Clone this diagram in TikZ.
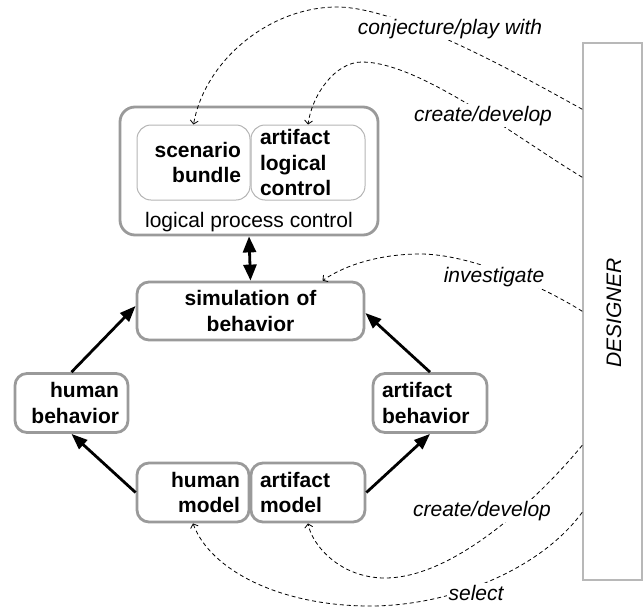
\documentclass[tikz,border=0pt]{standalone}
\usepackage{fontspec}
\setmainfont{Liberation Sans}
\usetikzlibrary{arrows.meta,calc}

\definecolor{boxgray}{HTML}{9A9A9A}
\definecolor{thingray}{HTML}{B4B4B4}
\definecolor{desgray}{HTML}{B8B8B8}

\tikzset{
  boxtext/.style={font=\bfseries\fontsize{21}{25.5}\selectfont},
  roundbox/.style={boxtext, draw=boxgray, line width=2.8pt, rounded corners=12pt,
    inner sep=0pt, minimum height=59pt},
  innerbox/.style={boxtext, draw=thingray, line width=1pt, rounded corners=14pt,
    inner sep=0pt, minimum height=75pt},
  flow/.style={line width=2.8pt, -{Triangle[length=16pt,width=12pt]}},
  link/.style={line width=0.8pt, dash pattern=on 4pt off 3pt,
    -{Straight Barb[length=3.5pt,width=8pt]}},
  linklabel/.style={font=\itshape\fontsize{21}{25}\selectfont, fill=white,
    inner sep=2pt, anchor=base},
}

\begin{document}
\begin{tikzpicture}[x=1pt,y=-1pt]
  \useasboundingbox (0,0) rectangle (643,608);

  % logical process control with its two parts
  \node[draw=boxgray, line width=2.8pt, rounded corners=15pt,
        minimum width=258pt, minimum height=128pt] (lpc) at (249,171) {};
  \node[innerbox, minimum width=113pt, text width=95pt, align=flush right]
        (scen) at (193.5,162.5) {scenario\\bundle};
  \node[innerbox, minimum width=114pt, text width=96pt, align=flush left]
        (alc) at (308,162.5) {artifact\\logical\\control};
  \node[font=\fontsize{21}{25}\selectfont, anchor=base, inner sep=0pt]
        (lpctext) at (249,227) {logical process control};

  % simulation and behaviour boxes
  \node[roundbox, minimum width=227pt, minimum height=58pt, text width=209pt,
        align=center] (sim) at (250.5,311) {simulation of\\behavior};
  \node[roundbox, minimum width=113pt, text width=95pt, align=flush right]
        (hb) at (71.5,403) {human\\behavior};
  \node[roundbox, minimum width=114pt, text width=96pt, align=flush left]
        (ab) at (430,403) {artifact\\behavior};
  \node[roundbox, minimum width=112pt, text width=94pt, align=flush right]
        (hm) at (193,492.5) {human\\model};
  \node[roundbox, minimum width=114pt, text width=96pt, align=flush left]
        (am) at (308,492.5) {artifact\\model};

  % designer column
  \node[draw=desgray, line width=1.5pt, minimum width=59pt, minimum height=537pt,
        inner sep=0pt] (des) at (612.5,311.5) {};
  \node[font=\itshape\fontsize{21}{25}\selectfont, rotate=90] (destext)
        at (614,313) {DESIGNER};

  % solid flow arrows
  \draw[line width=2.8pt, {Triangle[length=16pt,width=13pt]}-{Triangle[length=16pt,width=13pt]}]
        (lpc.south) -- (sim.north);
  \draw[flow] (hm.west) -- (hb.south);
  \draw[flow] (hb.north) -- ([yshift=5pt]sim.west);
  \draw[flow] (am.east) -- (ab.south);
  \draw[flow] (ab.north) -- ([yshift=-2pt]sim.east);

  % designer activities
  \coordinate (d1) at ($(des.north west)+(0,67)$);
  \coordinate (d2) at ($(des.north west)+(0,135)$);
  \coordinate (d3) at ($(des.north west)+(0,269)$);
  \coordinate (d4) at ($(des.north west)+(0,403)$);
  \coordinate (d5) at ($(des.north west)+(0,470)$);

  \draw[link] (d1) .. controls (520,75) and (400,7) .. (337,7)
                   .. controls (270,7) and (205,60) .. (scen.north);
  \draw[link] (d2) .. controls (520,140) and (420,62) .. (362,62)
                   .. controls (335,62) and (312,95) .. (alc.north);
  \draw[link] (d3) .. controls (540,285) and (470,254) .. (420,254)
                   .. controls (380,254) and (345,265) .. ([xshift=72pt]sim.north);
  \draw[link] (d4) .. controls (550,485) and (460,578) .. (385,578)
                   .. controls (340,578) and (312,545) .. (am.south);
  \draw[link] (d5) .. controls (540,570) and (450,606) .. (370,606)
                   .. controls (280,606) and (210,570) .. (hm.south);

  \node[linklabel] (l1) at (450,34) {conjecture/play with};
  \node[linklabel] (l2) at (483,121) {create/develop};
  \node[linklabel] (l3) at (494,282) {investigate};
  \node[linklabel] (l4) at (482,516) {create/develop};
  \node[linklabel] (l5) at (476,600) {select};
\end{tikzpicture}
\end{document}
